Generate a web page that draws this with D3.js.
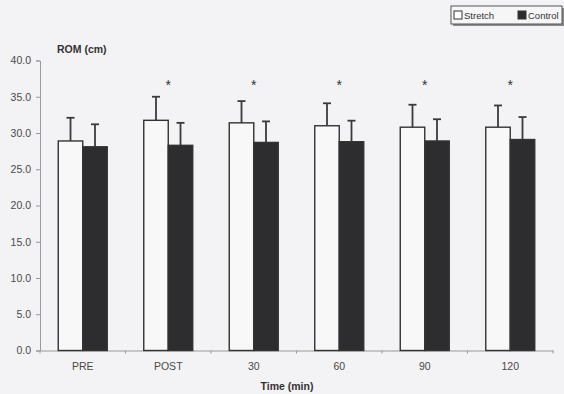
<!DOCTYPE html>
<html lang="en">
<head>
<meta charset="UTF-8">
<title>ROM over time</title>
<script src="https://d3js.org/d3.v7.min.js"></script>
<style>
  body { margin: 0; background: #f3f2f4; }
  svg { display: block; font-family: "Liberation Sans", Arial, sans-serif; }
  .tick text { fill: #4a4a4a; font-size: 10.5px; }
</style>
</head>
<body>
<svg id="chart" width="564" height="394"></svg>
<script>
// data
const times = ["PRE", "POST", "30", "60", "90", "120"];
const groups = ["Stretch", "Control"];
const stretchMean = [28.9, 31.75, 31.4, 31.0, 30.8, 30.8];
const stretchSD   = [3.2, 3.25, 3.0, 3.1, 3.1, 3.0];
const controlMean = [28.1, 28.3, 28.7, 28.8, 28.9, 29.1];
const controlSD   = [3.1, 3.1, 2.9, 2.9, 3.0, 3.1];
const significant = [false, true, true, true, true, true];
const yTicks = [0, 5, 10, 15, 20, 25, 30, 35, 40];

const svg = d3.select("#chart");
const plotLeft = 40, plotRight = 553, plotTop = 60.5, plotBottom = 350.5;

const x = d3.scaleBand().domain(times).range([plotLeft, plotRight])
  .paddingInner(0.427).paddingOuter(0.2135);
const xs = d3.scaleBand().domain(groups).range([0, x.bandwidth()]);
const y = d3.scaleLinear().domain([0, 40]).range([plotBottom, plotTop]);

const rows = times.map((t, i) => ({
  t,
  vals: [
    { g: "Stretch", m: stretchMean[i], sd: stretchSD[i] },
    { g: "Control", m: controlMean[i], sd: controlSD[i] }
  ]
}));

// y axis
const yAxis = svg.append("g").attr("transform", `translate(${plotLeft},0)`)
  .call(d3.axisLeft(y).tickValues(yTicks).tickFormat(d3.format(".1f")).tickSize(4).tickPadding(5));
yAxis.select(".domain").attr("stroke", "#9a9a9a");
yAxis.selectAll(".tick line").attr("stroke", "#9a9a9a");

// x axis: labels only, ticks between categories
const xAxis = svg.append("g").attr("transform", `translate(0,${plotBottom})`)
  .call(d3.axisBottom(x).tickSize(0).tickPadding(12).tickSizeOuter(0));
xAxis.select(".domain").attr("stroke", "#9a9a9a");
const edges = times.map(t => x(t) - x.step() * x.paddingOuter()).concat([plotRight]);
xAxis.selectAll(".edge").data(edges).enter().append("line")
  .attr("x1", d => d).attr("x2", d => d).attr("y1", 0).attr("y2", 3)
  .attr("stroke", "#9a9a9a");

// bars
const g = svg.selectAll(".grp").data(rows).enter().append("g")
  .attr("transform", d => `translate(${x(d.t)},0)`);

g.selectAll("line.err").data(d => d.vals).enter().append("line")
  .attr("x1", d => xs(d.g) + xs.bandwidth() / 2)
  .attr("x2", d => xs(d.g) + xs.bandwidth() / 2)
  .attr("y1", d => y(d.m)).attr("y2", d => y(d.m + d.sd))
  .attr("stroke", "#3a3a3a").attr("stroke-width", 1.8);
g.selectAll("line.cap").data(d => d.vals).enter().append("line")
  .attr("x1", d => xs(d.g) + xs.bandwidth() / 2 - 4)
  .attr("x2", d => xs(d.g) + xs.bandwidth() / 2 + 4)
  .attr("y1", d => y(d.m + d.sd)).attr("y2", d => y(d.m + d.sd))
  .attr("stroke", "#3a3a3a").attr("stroke-width", 1.8);

g.selectAll("rect").data(d => d.vals).enter().append("rect")
  .attr("x", d => xs(d.g))
  .attr("y", d => y(d.m))
  .attr("width", xs.bandwidth())
  .attr("height", d => y(0) - y(d.m))
  .attr("fill", d => d.g === "Stretch" ? "#f8f8f9" : "#2d2d2f")
  .attr("stroke", "#333")
  .attr("stroke-width", 1.4);

// significance marks
svg.selectAll(".star").data(times.filter((t, i) => significant[i])).enter().append("text")
  .attr("x", d => x(d) + x.bandwidth() / 2)
  .attr("y", 90)
  .attr("text-anchor", "middle")
  .attr("font-size", 14)
  .attr("fill", "#333")
  .text("*");

// axis titles
svg.append("text").attr("x", 57).attr("y", 53)
  .attr("font-size", 10.5).attr("font-weight", "bold").attr("fill", "#333")
  .text("ROM (cm)");
svg.append("text").attr("x", 287).attr("y", 390)
  .attr("text-anchor", "middle")
  .attr("font-size", 10.5).attr("font-weight", "bold").attr("fill", "#333")
  .text("Time (min)");

// legend
const lg = svg.append("g").attr("transform", "translate(451,6)");
lg.append("rect").attr("x", 2).attr("y", 2).attr("width", 112).attr("height", 18).attr("fill", "#8a8a8a");
lg.append("rect").attr("width", 111).attr("height", 18).attr("fill", "#f6f6f7").attr("stroke", "#555");
const items = lg.selectAll(".item").data(groups).enter().append("g")
  .attr("transform", (d, i) => `translate(${3 + i * 64},5)`);
items.append("rect").attr("width", 8).attr("height", 8)
  .attr("fill", d => d === "Stretch" ? "#fff" : "#2d2d2f").attr("stroke", "#333");
items.append("text").attr("x", 10).attr("y", 8)
  .attr("font-size", 9.5).attr("fill", "#333").text(d => d);
</script>
</body>
</html>
